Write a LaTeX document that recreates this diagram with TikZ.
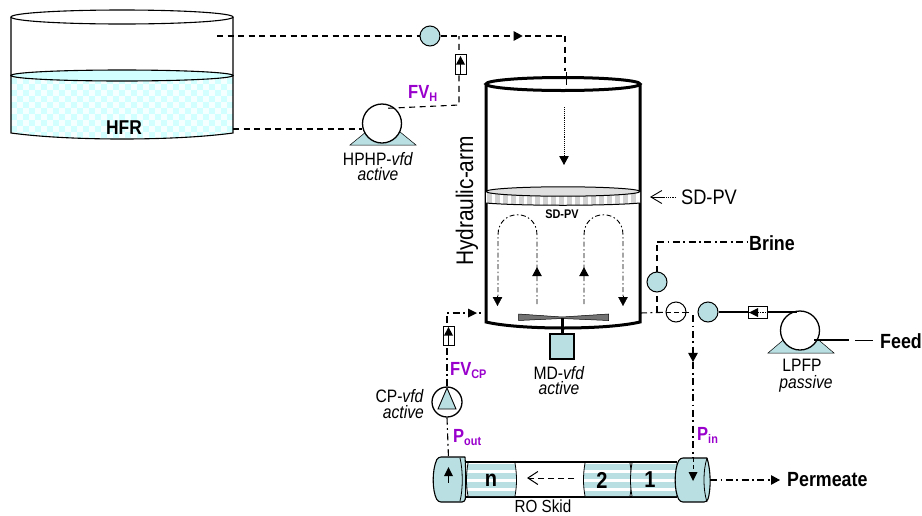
\documentclass[tikz,border=0pt]{standalone}
\usepackage{fontspec}
\setmainfont[FakeStretch=0.87]{Liberation Sans}
\usetikzlibrary{arrows.meta,decorations.markings,shapes.geometric}
\definecolor{teal1}{HTML}{B9DFE3}
\definecolor{water}{HTML}{D2FFFF}
\definecolor{purp}{HTML}{9900CC}
\newcommand{\fs}[1]{\fontsize{#1}{#1}\selectfont}
\tikzset{
  pipedash/.style={line width=1.1pt,dash pattern=on 6pt off 4.5pt},
  pipedot/.style={line width=1.1pt,dash pattern=on 7pt off 3.5pt on 1.8pt off 3.5pt},
  loopline/.style={line width=0.9pt,dash pattern=on 5pt off 2.5pt on 1.5pt off 2.5pt},
  tipat/.style={postaction={decorate,decoration={markings,mark=at position #1 with {\arrow{Triangle[length=9pt,width=9.5pt]}}}}},
  endtip/.style={-{Triangle[length=9pt,width=9.5pt]}},
  fitting/.style={circle,draw=black,line width=1pt,fill=teal1,minimum size=20pt,inner sep=0pt},
  opencirc/.style={circle,draw=black,line width=1pt,fill=white,minimum size=20pt,inner sep=0pt},
  pumpbody/.style={circle,draw=black,line width=1.3pt,fill=white,minimum size=39pt,inner sep=0pt},
  lab/.style={inner sep=0pt,align=center,font=\fs{18}},
  blab/.style={inner sep=0pt,font=\fs{20.5}\bfseries},
  plab/.style={inner sep=0pt,anchor=west,text=purp,font=\fs{19}\bfseries},
  wall/.style={line width=3pt,line cap=round},
  valvebox/.style={draw=black,line width=1pt,fill=white,inner sep=0pt}
}
\newcommand{\psub}[2]{#1\raisebox{-3pt}{\fs{12.5}\bfseries #2}}
\begin{document}
\begin{tikzpicture}[x=1pt,y=-1pt]
\useasboundingbox (0,0) rectangle (922,515);
% --- HFR tank
\begin{scope}
  \clip (11,75) -- (11,133) .. controls (70,141) and (174,141) .. (233,133) -- (233,75) -- cycle;
  \fill[water] (11,70) rectangle (233,140);
  \foreach \i in {0,...,37}{\foreach \j in {0,...,11}{
    \pgfmathtruncatemacro{\k}{mod(\i+\j,2)}
    \ifnum\k=0 \fill[white,opacity=.8] (11+6*\i,72+6*\j) rectangle ++(6,6); \fi}}
\end{scope}
\draw[line width=1.1pt] (11,17) -- (11,133) .. controls (70,141) and (174,141) .. (233,133) -- (233,17);
\draw[line width=1.1pt,fill=water] (122,75.5) ellipse [x radius=111,y radius=5.5];
\draw[line width=1.1pt,fill=white] (122,17) ellipse [x radius=111,y radius=7];
\node[blab,font=\fs{20}\bfseries] (hfr) at (124,128) {HFR};
\coordinate (hfrtop) at (217,36);
\coordinate (hfrout) at (233,129);
% --- main vessel
\draw[wall] (486,84) -- (486,322) .. controls (520,330) and (606,330) .. (640,322) -- (640,84);
\draw[wall,fill=white] (563,84) ellipse [x radius=77,y radius=6.5];
% SD-PV disc
\fill[white] (486,192) -- (486,203) .. controls (520,206) and (606,206) .. (640,203) -- (640,192) -- cycle;
\begin{scope}
  \clip (487,192) -- (487,203) .. controls (520,206) and (606,206) .. (639,203) -- (639,192) -- cycle;
  \foreach \i in {0,...,19}{\fill[black!18] (487+8*\i,188) rectangle ++(4.5,20);}
\end{scope}
\draw[line width=1pt] (486,203) .. controls (520,206) and (606,206) .. (640,203);
\draw[line width=1pt,fill=black!12] (563,191.5) ellipse [x radius=77,y radius=4.7];
\node[inner sep=0pt,font=\fs{12.5}\bfseries] (sdin) at (562,214) {SD-PV};
\node[inner sep=0pt,font=\fs{21}] (sdlab) at (709,197) {SD-PV};
\coordinate (sdtip) at (650,197);
\coordinate (sdfrom) at (676,197);
\draw[line width=0.8pt,densely dotted] (sdfrom) -- (654,197);
\draw[line width=0.9pt,-{Straight Barb[length=11pt,width=13pt]}] (663,197) -- (sdtip);
\node[inner sep=0pt,rotate=90,font=\fs{24}] (harm) at (467,201) {Hydraulic-arm};
% inlet
\node[fitting] (f1) at (430,36) {};
\coordinate (j1) at (565,36);
\coordinate (j2) at (565,71);
\draw[pipedash] (hfrtop) -- (f1);
\draw[pipedash,tipat=0.66] (f1) -- (j1);
\draw[pipedash] (j1) -- (j2);
\draw[line width=1pt] (566,72) -- (566,85);
\coordinate (a1) at (564,107);
\coordinate (a2) at (564,165);
\draw[densely dotted,line width=0.9pt,endtip] (a1) -- (a2);
% HPHP pump
\fill[teal1,draw=black,line width=0.5pt] (350,145) -- (416,145) -- (383,118) -- cycle;
\node[pumpbody] (hp) at (382,123.5) {};
\coordinate (j3) at (459,105);
\coordinate (j4) at (459,36);
\draw[pipedash] (hfrout) -- (hp.west |- hfrout);
\draw[pipedash] (hp.north east) ++(-8,-1) -- (j3) -- (j4);
\node[valvebox,minimum width=11pt,minimum height=20pt] (vh) at (460.5,64) {};
\draw[line width=1pt] (460.5,74) -- (460.5,64);
\fill (460.5,56) -- (456,64.5) -- (465,64.5) -- cycle;
\node[plab] (fvh) at (408,93) {\psub{FV}{H}};
\node[lab] (hplab) at (378,166.5) {HPHP-\textit{vfd}\\[-3pt]\textit{active}};
% circulation loops
\draw[loopline,tipat=0.19] (537,304) -- (537,235) .. controls (537,208) and (498,208) .. (498,235) -- (498,297);
\draw[loopline,tipat=0.19] (584,304) -- (584,235) .. controls (584,208) and (623,208) .. (623,235) -- (623,297);
\coordinate (d1) at (497.5,296); \coordinate (d2) at (497.5,306);
\coordinate (d3) at (623,296); \coordinate (d4) at (623,306);
\draw[endtip] (d1) -- (d2);
\draw[endtip] (d3) -- (d4);
% mixer
\fill[black!55,draw=black,line width=0.5pt] (518.5,314) -- (562,317) -- (608.5,314) -- (608.5,320.5) -- (562,318.5) -- (518.5,320.5) -- cycle;
\node[draw=black,line width=1.1pt,fill=teal1,minimum width=24pt,minimum height=25pt,inner sep=0pt] (md) at (562,346.5) {};
\coordinate (shaft) at (562,318);
\draw[line width=3pt] (shaft) -- (md.north);
\node[lab] (mdlab) at (559,381) {MD-\textit{vfd}\\[-3pt]\textit{active}};
% CP pump
\node[circle,draw=black,line width=1.3pt,fill=white,minimum size=30pt,inner sep=0pt] (cp) at (447,402) {};
\fill[teal1,draw=black,line width=0.9pt] (447,388) -- (438,409) -- (456,409) -- cycle;
\coordinate (j5) at (447,313);
\coordinate (j6) at (484,313);
\draw[pipedot] (cp.north) -- (j5) -- (j6);
\node[valvebox,minimum width=11pt,minimum height=19pt] (vc) at (448.5,335.5) {};
\draw[line width=1pt] (448.5,345) -- (448.5,335);
\fill (448.5,327) -- (444,335.5) -- (453,335.5) -- cycle;
\fill (477,313) -- (468,308.5) -- (468,317.5) -- cycle;
\node[plab] (fvc) at (450,371) {\psub{FV}{CP}};
\node[lab,align=right,anchor=east] (cplab) at (424,404) {CP-\textit{vfd}\\[-2pt]\textit{active}};
% RO skid
\fill[white] (465,462) rectangle (677,497);
\draw[line width=1.8pt] (465,462) -- (677,462) (465,497) -- (677,497);
\foreach \xa/\xb/\nm in {468/515/n,585/630/b,632/677/a}{
  \begin{scope}
    \clip (\xa,463) .. controls ({\xa-2},475) and ({\xa-2},485) .. (\xa,496) -- (\xb,496) .. controls ({\xb+2},485) and ({\xb+2},475) .. (\xb,463) -- cycle;
    \fill[white] (\xa-3,463) rectangle (\xb+3,496);
    \foreach \s in {0,...,3}{\fill[teal1] (\xa-3,463.5+9*\s) rectangle (\xb+3,463.5+9*\s+6);}
  \end{scope}
  \draw[line width=0.8pt] (\xa,463) .. controls ({\xa-2},475) and ({\xa-2},485) .. (\xa,496);
  \draw[line width=0.8pt] (\xb,463) .. controls ({\xb+2},475) and ({\xb+2},485) .. (\xb,496);
}
\node[inner sep=0pt,font=\fs{23}\bfseries] (mn) at (491,480) {n};
\node[inner sep=0pt,font=\fs{23}\bfseries] (m2) at (602,480) {2};
\node[inner sep=0pt,font=\fs{23}\bfseries] (m1) at (650,480) {1};
\coordinate (ra) at (574,478);
\coordinate (rb) at (527,478);
\draw[line width=1pt,dash pattern=on 6pt off 4pt,-{Straight Barb[length=10pt,width=13pt]}] (ra) -- (rb);
% caps
\draw[line width=1.1pt,fill=teal1,rounded corners=3pt] (465,457) -- (438,457) .. controls (432,470) and (432,490) .. (438,502) -- (465,502) .. controls (466,490) and (466,470) .. (465,457);
\draw[line width=0.8pt] (460,458) .. controls (463,470) and (463,490) .. (460,501);
\draw[line width=1.1pt,fill=teal1,rounded corners=3pt] (707,458) -- (680,458) .. controls (674,470) and (674,490) .. (680,502) -- (707,502) .. controls (711,490) and (711,470) .. (707,458);
\draw[line width=0.8pt] (707,458) .. controls (703,470) and (703,490) .. (707,502);
\node[inner sep=0pt,minimum size=1pt] (capl) at (448.5,458) {};
\node[inner sep=0pt,minimum size=1pt] (capr) at (693,458) {};
\draw[pipedot] (cp.south) -- (capl);
\draw[line width=1pt] (448.5,475) -- (448.5,483);
\fill (448.5,467) -- (444,476) -- (453,476) -- cycle;
\fill (693,481) -- (688.5,472) -- (697.5,472) -- cycle;
\draw[line width=1pt,dash pattern=on 4pt off 3pt] (693,458) -- (693,472);
\node[plab] (pout) at (453,438) {P\raisebox{-3pt}{\fs{12.5}\bfseries out}};
\node[plab] (pin) at (697,435) {P\raisebox{-3pt}{\fs{12.5}\bfseries in}};
\node[inner sep=0pt,font=\fs{17.5}] (rolab) at (543,506) {RO Skid};
\node[blab,anchor=west] (perm) at (787,480) {Permeate};
\coordinate (capo) at (710,480);
\draw[pipedot,endtip] (capo) -- (perm.west -| 780,480);
% right side
\node[opencirc] (oc) at (676,312) {};
\node[fitting] (f2) at (708,312) {};
\node[fitting] (f3) at (657,282) {};
\coordinate (vr) at (640,313);
\coordinate (j7) at (657,312);
\coordinate (j8) at (657,242);
\node[blab,anchor=west] (brine) at (749,243) {Brine};
\draw[pipedot] (vr) -- (oc);
\draw[pipedash] (j7) -- (f3);
\draw[pipedash] (f3) -- (j8);
\draw[pipedot] (j8) -- (brine.west |- j8);
\draw[line width=0.9pt,dash pattern=on 5pt off 3pt] (666,312) -- (686,312);
\coordinate (j9) at (693,315);
\draw[pipedot,tipat=0.33] (j9) -- (capr);
\draw[line width=0.9pt] (686,312) -- (689,312);
% LPFP
\fill[teal1,draw=black,line width=0.5pt] (768,353) -- (834,353) -- (801,325) -- cycle;
\node[pumpbody] (lp) at (800,330.5) {};
\draw[line width=1.3pt] (f2) -- (lp.north west |- f2) -- (797,312);
\node[valvebox,minimum width=18.5pt,minimum height=12pt] (vl) at (758,312.5) {};
\draw[line width=0.8pt,densely dotted] (758,312.5) -- (767,312.5);
\draw[line width=1.2pt] (749,312.5) -- (752,312.5);
\fill (749,312.5) -- (758,308) -- (758,317) -- cycle;
\coordinate (lpo) at (849,340);
\coordinate (fa) at (855,340);
\coordinate (fb) at (873,340);
\draw[line width=1.8pt] (lp.south east |- lpo) -- (lpo);
\draw[line width=1pt] (fa) -- (fb);
\node[blab,anchor=west] (feed) at (880,341) {Feed};
\node[lab] (lplab) at (802,365.5) {LPFP};
\node[lab,font=\fs{18}\itshape] (lpsub) at (806,384) {passive};
\end{tikzpicture}
\end{document}
